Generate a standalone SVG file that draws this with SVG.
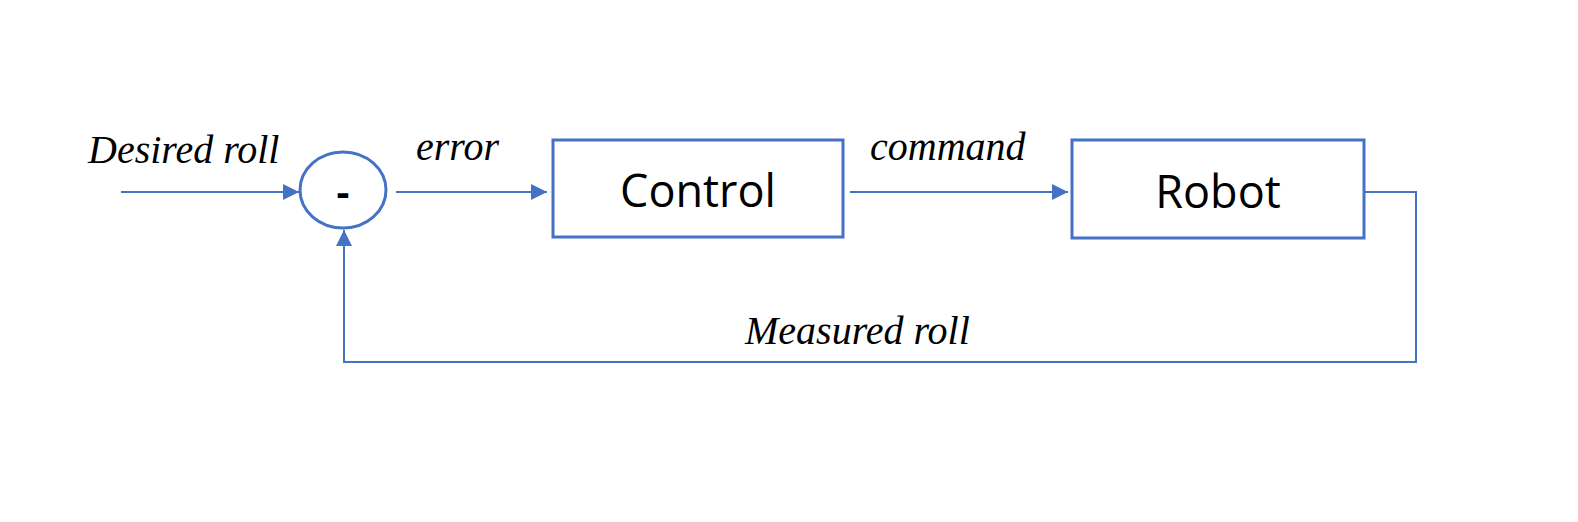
<svg xmlns="http://www.w3.org/2000/svg" width="1578" height="522" viewBox="0 0 1578 522">
<style>
.ln{fill:none;stroke:#4472C4;stroke-width:2}
.box{fill:#fff;stroke:#4472C4;stroke-width:3}
.lbl{font-family:"Liberation Serif",serif;font-style:italic;font-size:40px;fill:#000}
.nt{font-family:"Open Sans","Liberation Sans",sans-serif;font-size:45px;fill:#000;text-anchor:middle}
</style>
<defs>
<marker id="ah" viewBox="0 0 10 10" refX="10" refY="5" markerWidth="16" markerHeight="16" markerUnits="userSpaceOnUse" orient="auto">
<path d="M0,0 L10,5 L0,10 z" fill="#4472C4"/>
</marker>
</defs>
<rect width="1578" height="522" fill="#fff"/>
<g id="connectors">
<line class="ln" x1="121" y1="192" x2="299" y2="192" marker-end="url(#ah)"/>
<line class="ln" x1="396" y1="192" x2="547" y2="192" marker-end="url(#ah)"/>
<line class="ln" x1="850" y1="192" x2="1068" y2="192" marker-end="url(#ah)"/>
<polyline class="ln" points="1365,192 1416,192 1416,362 344,362 344,230" marker-end="url(#ah)"/>
</g>
<g id="labels">
<text class="lbl" x="88" y="163">Desired roll</text>
<text class="lbl" x="416" y="160">error</text>
<text class="lbl" x="870" y="160">command</text>
<text class="lbl" x="745" y="344">Measured roll</text>
</g>
<g id="sum">
<ellipse class="box" cx="343" cy="190" rx="43" ry="38"/>
<text class="nt" x="343" y="206" style="font-size:40px;font-weight:bold">-</text>
</g>
<g id="control">
<rect class="box" x="553" y="140" width="290" height="97"/>
<text class="nt" x="698" y="207">Control</text>
</g>
<g id="robot">
<rect class="box" x="1072" y="140" width="292" height="98"/>
<text class="nt" x="1218" y="208">Robot</text>
</g>
</svg>
